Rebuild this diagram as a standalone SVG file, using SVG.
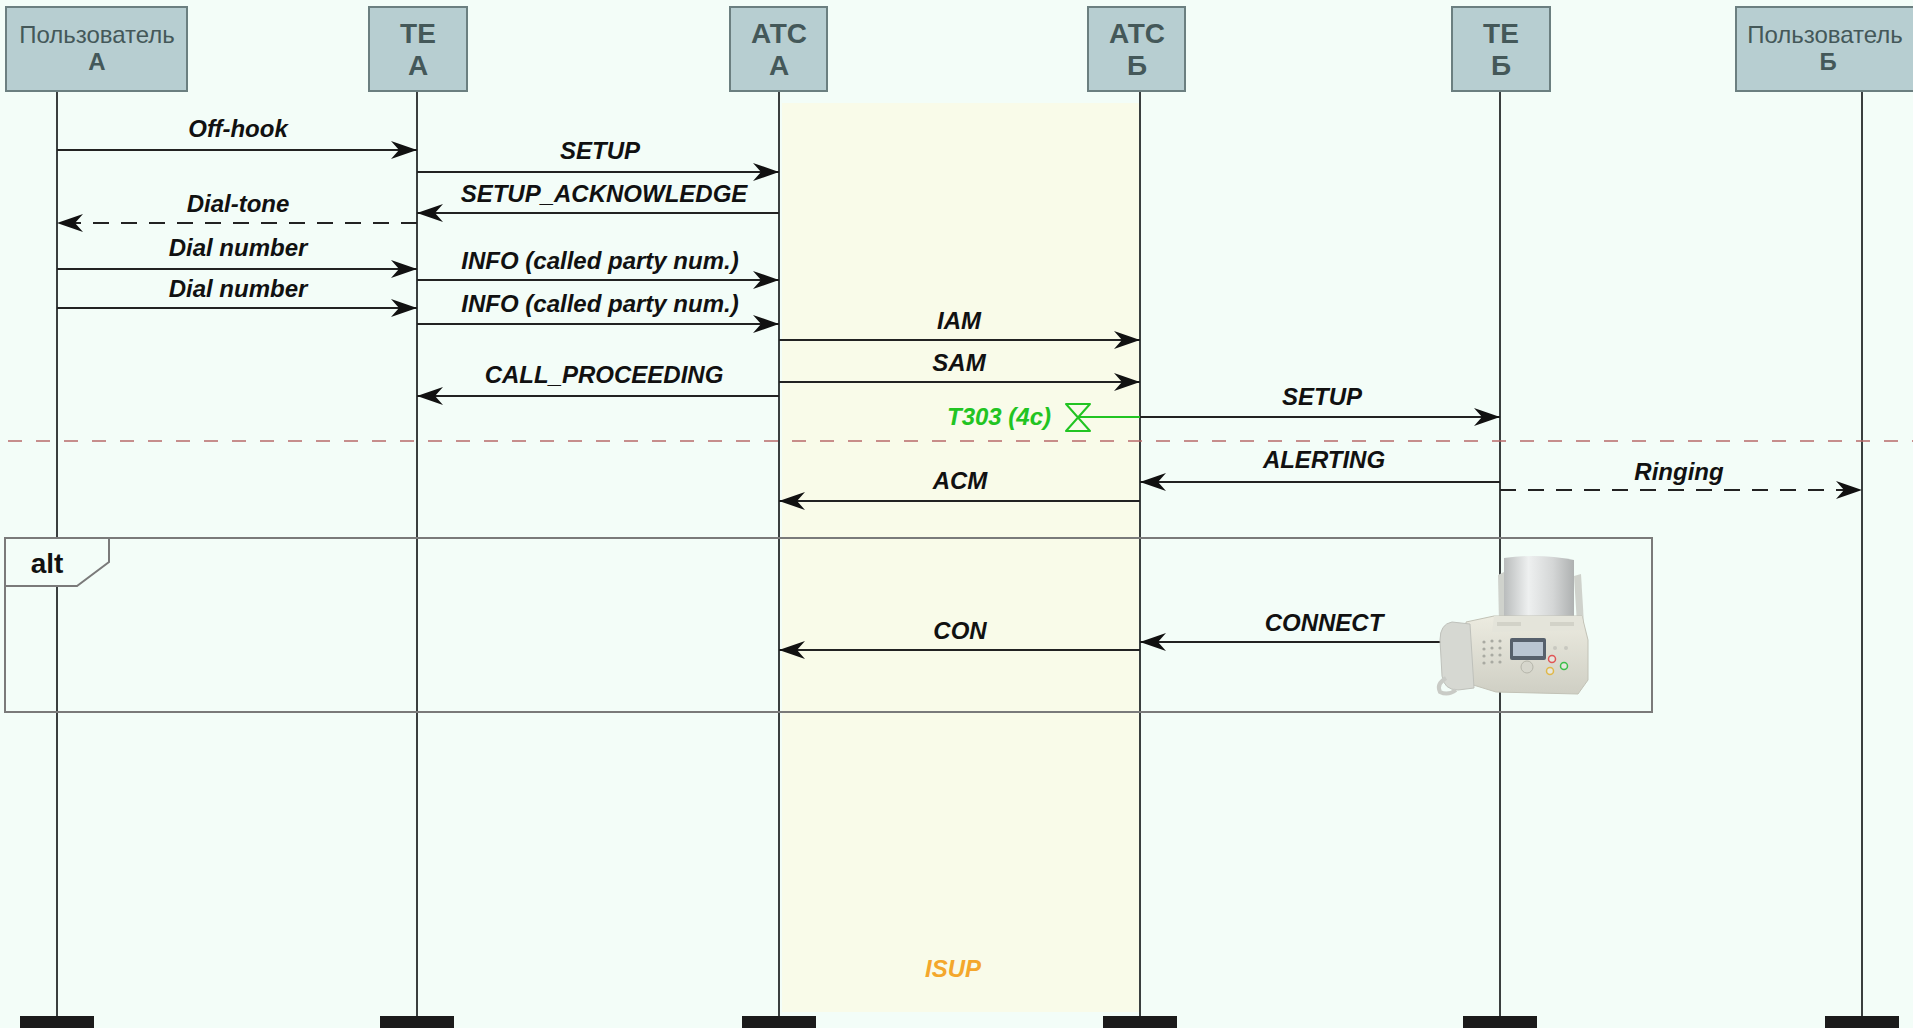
<svg xmlns="http://www.w3.org/2000/svg" width="1913" height="1028" viewBox="0 0 1913 1028">
  <style>
    .box { fill: #b7ced1; stroke: #6b7f80; stroke-width: 2; }
    .ttl { font-family: "Liberation Sans", Arial, sans-serif; fill: #445859; text-anchor: middle; }
    .big { font-size: 28px; font-weight: bold; }
    .usr { font-size: 24px; }
    .usr2 { font-size: 24px; font-weight: bold; }
    .life { stroke: #3a3f3f; stroke-width: 2; fill: none; }
    .endbar { fill: #1b1b1b; }
    .msg { stroke: #222; stroke-width: 2; fill: none; marker-end: url(#arr); }
    .dash { stroke-dasharray: 16 12; }
    .lbl { font-family: "Liberation Sans", Arial, sans-serif; font-size: 24px; font-weight: bold; font-style: italic; fill: #111; text-anchor: middle; }
    .frame { stroke: #7a7a7a; stroke-width: 2; fill: none; }
  </style>
  <defs>
    <marker id="arr" viewBox="-27 -10 28 20" refX="0" refY="0" markerWidth="28" markerHeight="20" markerUnits="userSpaceOnUse" orient="auto">
      <path d="M0,0 L-26,-9 L-18,0 L-26,9 Z" fill="#111"/>
    </marker>
    <linearGradient id="paper" x1="0" y1="0" x2="1" y2="0">
      <stop offset="0" stop-color="#b9bcbc"/>
      <stop offset="0.35" stop-color="#eef0f0"/>
      <stop offset="0.7" stop-color="#d4d6d6"/>
      <stop offset="1" stop-color="#aeb1b1"/>
    </linearGradient>
    <linearGradient id="body" x1="0" y1="0" x2="0" y2="1">
      <stop offset="0" stop-color="#ecebe0"/>
      <stop offset="1" stop-color="#cfcfc4"/>
    </linearGradient>
  </defs>

  <!-- canvas -->
  <rect x="0" y="0" width="1913" height="1028" fill="#f3fdf8"/>

  <!-- ISUP zone between the two exchanges -->
  <g id="isup-zone">
    <rect x="782" y="103" width="357" height="909" fill="#f9fbe9"/>
    <text x="953" y="977" font-family="Liberation Sans, Arial, sans-serif" font-size="24" font-weight="bold" font-style="italic" fill="#f4a72c" text-anchor="middle">ISUP</text>
  </g>

  <!-- lifelines -->
  <g id="lifelines">
    <line class="life" x1="57" y1="91" x2="57" y2="1016"/>
    <line class="life" x1="417" y1="91" x2="417" y2="1016"/>
    <line class="life" x1="779" y1="91" x2="779" y2="1016"/>
    <line class="life" x1="1140" y1="91" x2="1140" y2="1016"/>
    <line class="life" x1="1500" y1="91" x2="1500" y2="1016"/>
    <line class="life" x1="1862" y1="91" x2="1862" y2="1016"/>
    <rect class="endbar" x="20" y="1016" width="74" height="14"/>
    <rect class="endbar" x="380" y="1016" width="74" height="14"/>
    <rect class="endbar" x="742" y="1016" width="74" height="14"/>
    <rect class="endbar" x="1103" y="1016" width="74" height="14"/>
    <rect class="endbar" x="1463" y="1016" width="74" height="14"/>
    <rect class="endbar" x="1825" y="1016" width="74" height="14"/>
  </g>

  <!-- separator -->
  <line x1="8" y1="441" x2="1913" y2="441" stroke="#b86a6a" stroke-width="1.5" stroke-dasharray="14 14"/>

  <!-- alt fragment -->
  <g id="alt">
    <rect class="frame" x="5" y="538" width="1647" height="174"/>
    <path d="M5,538 L109,538 L109,562 L77,586 L5,586 Z" fill="#f3fdf8" stroke="#7a7a7a" stroke-width="2"/>
    <text x="47" y="573" font-family="Liberation Sans, Arial, sans-serif" font-size="28" font-weight="bold" fill="#111" text-anchor="middle">alt</text>
  </g>

  <!-- messages -->
  <g id="connectors">
    <line class="msg" x1="57" y1="150" x2="417" y2="150"/>
    <text class="lbl" x="238" y="137">Off-hook</text>

    <line class="msg" x1="417" y1="172" x2="779" y2="172"/>
    <text class="lbl" x="600" y="159">SETUP</text>

    <line class="msg" x1="779" y1="213" x2="417" y2="213"/>
    <text class="lbl" x="604" y="202">SETUP_ACKNOWLEDGE</text>

    <line class="msg dash" x1="417" y1="223" x2="57" y2="223"/>
    <text class="lbl" x="238" y="212">Dial-tone</text>

    <line class="msg" x1="57" y1="269" x2="417" y2="269"/>
    <text class="lbl" x="238" y="256">Dial number</text>

    <line class="msg" x1="417" y1="280" x2="779" y2="280"/>
    <text class="lbl" x="600" y="269">INFO (called party num.)</text>

    <line class="msg" x1="57" y1="308" x2="417" y2="308"/>
    <text class="lbl" x="238" y="297">Dial number</text>

    <line class="msg" x1="417" y1="324" x2="779" y2="324"/>
    <text class="lbl" x="600" y="312">INFO (called party num.)</text>

    <line class="msg" x1="779" y1="340" x2="1140" y2="340"/>
    <text class="lbl" x="959" y="329">IAM</text>

    <line class="msg" x1="779" y1="382" x2="1140" y2="382"/>
    <text class="lbl" x="959" y="371">SAM</text>

    <line class="msg" x1="779" y1="396" x2="417" y2="396"/>
    <text class="lbl" x="604" y="383">CALL_PROCEEDING</text>

    <line class="msg" x1="1140" y1="417" x2="1500" y2="417"/>
    <text class="lbl" x="1322" y="405">SETUP</text>

    <line class="msg" x1="1500" y1="482" x2="1140" y2="482"/>
    <text class="lbl" x="1324" y="468">ALERTING</text>

    <line class="msg dash" x1="1500" y1="490" x2="1862" y2="490"/>
    <text class="lbl" x="1679" y="480">Ringing</text>

    <line class="msg" x1="1140" y1="501" x2="779" y2="501"/>
    <text class="lbl" x="960" y="489">ACM</text>

    <line class="msg" x1="1500" y1="642" x2="1140" y2="642"/>
    <text class="lbl" x="1324" y="631">CONNECT</text>

    <line class="msg" x1="1140" y1="650" x2="779" y2="650"/>
    <text class="lbl" x="960" y="639">CON</text>
  </g>

  <!-- T303 timer on exchange B -->
  <g id="timer-t303">
    <line x1="1078" y1="417" x2="1140" y2="417" stroke="#22c422" stroke-width="2"/>
    <path d="M1066,404 L1090,404 L1066,431 L1090,431 Z" fill="none" stroke="#22c422" stroke-width="2" stroke-linejoin="round"/>
    <text x="999" y="425" font-family="Liberation Sans, Arial, sans-serif" font-size="24" font-weight="bold" font-style="italic" fill="#22c422" text-anchor="middle">T303 (4с)</text>
  </g>

  <!-- fax terminal drawn over TE B lifeline -->
  <g id="fax">
    <!-- paper support arms -->
    <path d="M1498,575 L1504,572 L1506,622 L1499,624 Z" fill="#cfd2cc"/>
    <path d="M1574,576 L1581,574 L1584,624 L1577,624 Z" fill="#cfd2cc"/>
    <!-- paper -->
    <path d="M1504,558 Q1540,553 1574,560 L1574,624 L1504,624 Z" fill="url(#paper)"/>
    <!-- body -->
    <path d="M1466,622 L1494,616 L1582,616 L1588,640 L1588,680 L1578,694 L1496,692 L1470,684 Z" fill="url(#body)" stroke="#c2c2b6" stroke-width="1"/>
    <path d="M1494,616 L1582,616 L1584,630 L1492,632 Z" fill="#e4e4da"/>
    <rect x="1497" y="622" width="24" height="4" fill="#d2d2c8"/>
    <rect x="1550" y="622" width="24" height="4" fill="#d2d2c8"/>
    <!-- handset -->
    <path d="M1452,622 Q1440,624 1440,640 L1442,676 Q1444,690 1458,690 L1474,688 L1470,624 Z" fill="#d6d8d2" stroke="#bfc1bb" stroke-width="1"/>
    <path d="M1446,678 Q1436,684 1440,692 Q1448,696 1456,690" fill="none" stroke="#c9cbc6" stroke-width="4"/>
    <!-- keypad -->
    <g fill="#a9aaa2">
      <circle cx="1484" cy="642" r="1.6"/><circle cx="1492" cy="641" r="1.6"/><circle cx="1500" cy="641" r="1.6"/>
      <circle cx="1484" cy="649" r="1.6"/><circle cx="1492" cy="648" r="1.6"/><circle cx="1500" cy="648" r="1.6"/>
      <circle cx="1484" cy="656" r="1.6"/><circle cx="1492" cy="655" r="1.6"/><circle cx="1500" cy="655" r="1.6"/>
      <circle cx="1484" cy="663" r="1.6"/><circle cx="1492" cy="662" r="1.6"/><circle cx="1500" cy="662" r="1.6"/>
    </g>
    <!-- display -->
    <rect x="1510" y="638" width="36" height="22" rx="2" fill="#56606c"/>
    <rect x="1513" y="642" width="30" height="14" fill="#b9c5d2"/>
    <circle cx="1527" cy="667" r="6" fill="#d6d6cc" stroke="#b5b5aa" stroke-width="1"/>
    <!-- buttons -->
    <circle cx="1555" cy="648" r="2" fill="#c8c8c0"/>
    <circle cx="1566" cy="648" r="2" fill="#c8c8c0"/>
    <circle cx="1552" cy="659" r="3.5" fill="#e6e6de" stroke="#e05555" stroke-width="1.5"/>
    <circle cx="1564" cy="666" r="3.5" fill="#e6e6de" stroke="#3cbf4a" stroke-width="1.5"/>
    <circle cx="1550" cy="671" r="3.5" fill="#e6e6de" stroke="#e0b84a" stroke-width="1.5"/>
  </g>

  <!-- participants -->
  <g id="user-a">
    <rect class="box" x="6" y="7" width="181" height="84"/>
    <text class="ttl usr" x="97" y="43">Пользователь</text>
    <text class="ttl usr2" x="97" y="70">А</text>
  </g>
  <g id="te-a">
    <rect class="box" x="369" y="7" width="98" height="84"/>
    <text class="ttl big" x="418" y="43">TE</text>
    <text class="ttl big" x="418" y="75">А</text>
  </g>
  <g id="atc-a">
    <rect class="box" x="730" y="7" width="97" height="84"/>
    <text class="ttl big" x="779" y="43">АТС</text>
    <text class="ttl big" x="779" y="75">А</text>
  </g>
  <g id="atc-b">
    <rect class="box" x="1088" y="7" width="97" height="84"/>
    <text class="ttl big" x="1137" y="43">АТС</text>
    <text class="ttl big" x="1137" y="75">Б</text>
  </g>
  <g id="te-b">
    <rect class="box" x="1452" y="7" width="98" height="84"/>
    <text class="ttl big" x="1501" y="43">TE</text>
    <text class="ttl big" x="1501" y="75">Б</text>
  </g>
  <g id="user-b">
    <rect class="box" x="1736" y="7" width="182" height="84"/>
    <text class="ttl usr" x="1825" y="43">Пользователь</text>
    <text class="ttl usr2" x="1828" y="70">Б</text>
  </g>
</svg>
